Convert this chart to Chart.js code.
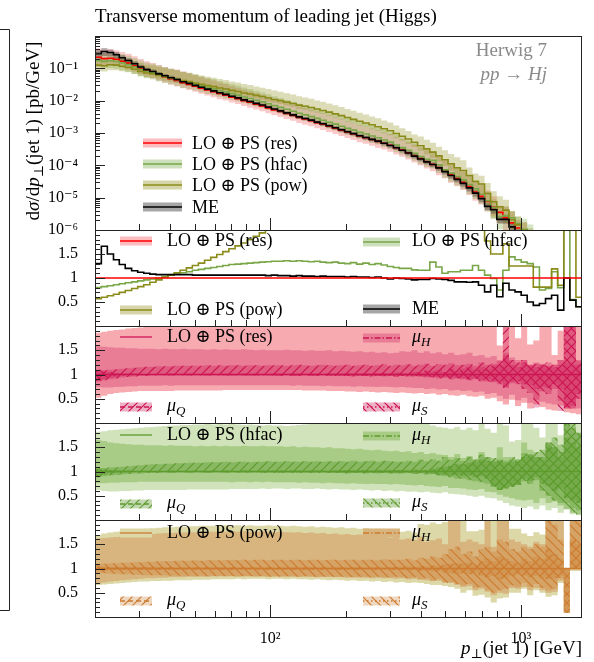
<!DOCTYPE html>
<html>
<head>
<meta charset="utf-8">
<script src="https://cdn.jsdelivr.net/npm/chart.js@4.4.1/dist/chart.umd.min.js"></script>
<style>
  body { margin: 0; background: #fff; }
  #wrap { position: relative; width: 594px; height: 662px; }
  #wrap canvas { position: absolute; left: 0; top: 0; }
</style>
</head>
<body>
<div id="wrap">
  <canvas id="cTop" width="594" height="662"></canvas>
  <canvas id="cRatio" width="594" height="662"></canvas>
  <canvas id="cRes" width="594" height="662"></canvas>
  <canvas id="cHfac" width="594" height="662"></canvas>
  <canvas id="cPow" width="594" height="662"></canvas>
</div>
<script>
const SERIF = '"Liberation Serif", "DejaVu Serif", serif';

// bin edges of p_T(jet 1) [GeV]
const edges = [20,21.2,22.4,23.7,25,26.4,28,29.6,31.3,33.1,
  35,37,39.1,41.4,43.7,46.3,48.9,51.7,54.7,57.9,
  61.2,64.7,68.4,72.4,76.5,80.9,85.6,90.5,95.7,101,
  107,113,120,127,134,142,150,158,167,177,
  187,198,209,221,234,248,262,277,293,310,
  327,346,366,387,410,433,458,484,512,542,
  573,606,641,677,716,757,801,847,896,947,
  1002,1059,1120,1185,1253,1325,1401,1482,1567,1657,1752];

// LO (+) PS (res), dsigma/dpT [pb/GeV]
const res = [0.22,0.2,0.205,0.19,0.166,0.145,0.12,0.098,0.083,0.074,
  0.063,0.055,0.048,0.042,0.036,0.032,0.028,0.0245,0.0214,0.019,
  0.0166,0.0148,0.0129,0.0115,0.01,0.0089,0.0078,0.0069,0.006,0.0052,
  0.0046,0.004,0.0035,0.003,0.0027,0.0024,0.0021,0.00186,0.00162,0.00141,
  0.00123,0.00107,9.3e-4,8.1e-4,7.1e-4,6.3e-4,5.5e-4,4.8e-4,4.2e-4,3.5e-4,
  2.95e-4,2.45e-4,2.0e-4,1.62e-4,1.32e-4,1.07e-4,8.5e-5,6.6e-5,5.1e-5,4.0e-5,
  3.0e-5,2.2e-5,1.5e-5,1.1e-5,7.6e-6,5.0e-6,3.5e-6,2.4e-6,1.66e-6,1.15e-6,
  7.9e-7,5.4e-7,3.6e-7,2.5e-7,1.7e-7,1.2e-7,8e-8,5.5e-8,3.7e-8,2.5e-8];

// ratios to LO (+) PS (res)
const hfacRatio = [0.8,0.82,0.84,0.86,0.88,0.9,0.92,0.94,0.96,0.98,
  1.0,1.03,1.06,1.08,1.11,1.13,1.16,1.18,1.2,1.22,
  1.24,1.26,1.28,1.29,1.3,1.31,1.32,1.33,1.34,1.35,
  1.35,1.36,1.35,1.36,1.35,1.34,1.35,1.33,1.32,1.33,
  1.31,1.3,1.32,1.29,1.31,1.28,1.3,1.27,1.24,1.22,
  1.2,1.2,1.17,1.16,1.16,1.33,1.23,1.1,1.13,1.13,
  1.16,1.16,1.26,1.16,1.06,0.99,0.75,1.16,1.44,1.38,
  1.33,1.3,1.23,0.75,0.78,1.13,0.8,2.5,0.55,0.4];
const powRatio = [0.57,0.6,0.63,0.66,0.7,0.74,0.78,0.82,0.86,0.91,
  0.96,1.01,1.06,1.11,1.16,1.21,1.26,1.31,1.37,1.43,
  1.49,1.55,1.61,1.67,1.73,1.8,1.87,1.94,2.02,2.1,
  2.18,2.26,2.34,2.42,2.5,2.56,2.62,2.68,2.72,2.76,
  2.8,2.82,2.84,2.86,2.86,2.85,2.84,2.82,2.8,2.75,
  2.7,2.65,2.6,2.5,2.45,2.4,2.3,2.25,2.2,2.1,
  2.3,2.2,2.1,2.4,1.77,1.5,1.5,1.71,1.25,1.25,
  1.25,1.25,0.81,0.81,0.81,1.19,0.85,2.5,2.5,0.6];
const meRatio = [1.3,1.66,1.5,1.38,1.28,1.2,1.15,1.12,1.1,1.08,
  1.07,1.07,1.07,1.07,1.07,1.07,1.06,1.06,1.06,1.06,
  1.06,1.06,1.06,1.06,1.06,1.06,1.06,1.06,1.05,1.06,
  1.05,1.05,1.04,1.05,1.04,1.04,1.03,1.04,1.03,1.03,
  1.03,1.02,1.03,1.02,1.02,1.01,1.02,1.0,0.98,1.0,
  0.99,0.98,0.96,0.97,0.97,0.99,0.98,0.97,0.95,0.92,
  0.92,0.91,0.92,0.85,0.71,0.85,0.61,0.89,0.75,0.71,
  0.64,0.5,0.43,0.47,0.57,0.64,0.33,1.0,0.54,0.4];
// ME relative uncertainty
const meBand = [0.3,0.28,0.25,0.22,0.2,0.18,0.17,0.16,0.15,0.15,
  0.14,0.14,0.14,0.13,0.13,0.13,0.13,0.13,0.12,0.12,
  0.12,0.12,0.12,0.12,0.12,0.12,0.12,0.12,0.12,0.12,
  0.12,0.12,0.12,0.12,0.12,0.12,0.12,0.13,0.13,0.13,
  0.13,0.13,0.13,0.13,0.14,0.14,0.14,0.14,0.15,0.15,
  0.15,0.16,0.16,0.17,0.17,0.18,0.18,0.19,0.2,0.2,
  0.21,0.22,0.22,0.23,0.24,0.25,0.26,0.27,0.28,0.29,
  0.3,0.3,0.3,0.3,0.3,0.3,0.3,0.3,0.3,0.3];

// res: scale variation bands (relative)
const rTotHi = [1.86,1.88,1.9,1.92,1.93,1.95,1.96,1.97,1.98,1.99,
  2,2.01,2.02,2.2,2.2,2.2,2.2,2.2,2.2,2.2,
  2.2,2.2,2.2,2.2,2.2,2.2,2.2,2.2,2.2,2.2,
  2.2,2.2,2.2,2.2,2.2,2.2,2.2,2.2,2.2,2.2,
  2.2,2.2,2.2,2.2,2.2,2.2,2.2,2.2,2.2,2.2,
  2.2,2.2,2.2,2.2,2.2,2.2,2.2,2.2,2.2,2.2,
  2.2,2.2,2.2,2.2,2.2,2.2,1.6,2.2,2.2,1.75,
  2.2,1.62,1.7,2.2,2.2,1.4,1.9,2.2,2.2,2.2];
const rTotLo = [0.52,0.56,0.6,0.62,0.63,0.64,0.65,0.66,0.66,0.66,
  0.66,0.66,0.66,0.67,0.67,0.67,0.67,0.67,0.67,0.67,
  0.67,0.68,0.68,0.68,0.68,0.68,0.68,0.68,0.68,0.68,
  0.68,0.68,0.68,0.68,0.67,0.67,0.67,0.67,0.66,0.66,
  0.66,0.65,0.65,0.64,0.65,0.64,0.63,0.64,0.63,0.62,
  0.63,0.62,0.61,0.62,0.6,0.61,0.58,0.6,0.57,0.56,
  0.58,0.55,0.54,0.56,0.5,0.52,0.45,0.38,0.48,0.35,
  0.42,0.3,0.38,0.33,0.28,0.26,0.36,0.22,0.2,0.18];
const rHHi = [1.58,1.57,1.56,1.55,1.55,1.54,1.54,1.53,1.53,1.53,
  1.52,1.53,1.52,1.52,1.53,1.52,1.52,1.52,1.51,1.52,
  1.51,1.52,1.51,1.51,1.52,1.51,1.5,1.51,1.5,1.5,
  1.5,1.51,1.5,1.5,1.49,1.5,1.49,1.49,1.5,1.48,
  1.49,1.48,1.47,1.48,1.46,1.47,1.45,1.46,1.44,1.45,
  1.48,1.47,1.5,1.45,1.48,1.44,1.46,1.42,1.45,1.4,
  1.42,1.45,1.38,1.4,1.35,1.38,1.3,1.45,1.35,1.3,
  1.3,1.18,1.25,1.22,1.15,1.2,1.3,1.25,1.2,1.28];
const rHLo = [0.74,0.73,0.73,0.74,0.75,0.76,0.76,0.77,0.77,0.77,
  0.77,0.78,0.77,0.78,0.78,0.78,0.78,0.78,0.78,0.78,
  0.78,0.78,0.78,0.78,0.78,0.78,0.78,0.78,0.78,0.78,
  0.78,0.78,0.77,0.78,0.77,0.77,0.77,0.76,0.77,0.76,
  0.76,0.76,0.75,0.76,0.75,0.75,0.74,0.75,0.74,0.73,
  0.74,0.73,0.72,0.72,0.7,0.71,0.69,0.7,0.67,0.68,
  0.66,0.67,0.64,0.65,0.6,0.62,0.56,0.5,0.58,0.47,
  0.52,0.42,0.48,0.44,0.4,0.38,0.46,0.33,0.3,0.3];
const rQHi = [1.08,1.09,1.1,1.11,1.12,1.13,1.14,1.15,1.16,1.16,
  1.17,1.17,1.17,1.18,1.18,1.18,1.18,1.18,1.19,1.18,
  1.19,1.18,1.19,1.19,1.18,1.19,1.19,1.18,1.19,1.19,
  1.19,1.18,1.19,1.2,1.19,1.18,1.19,1.2,1.19,1.18,
  1.19,1.2,1.18,1.19,1.2,1.18,1.19,1.21,1.18,1.2,
  1.19,1.21,1.18,1.2,1.22,1.18,1.21,1.2,1.23,1.19,
  1.2,1.22,1.18,1.25,1.2,1.22,1.28,2.2,1.3,1.25,
  1.3,1.2,1.22,1.2,1.25,1.2,1.3,2.2,2.2,1.3];
const rQLo = [0.86,0.88,0.9,0.92,0.94,0.95,0.96,0.97,0.97,0.98,
  0.98,0.98,0.98,0.98,0.98,0.98,0.98,0.98,0.98,0.98,
  0.98,0.98,0.97,0.98,0.98,0.97,0.98,0.98,0.97,0.98,
  0.97,0.98,0.97,0.97,0.98,0.97,0.97,0.98,0.97,0.97,
  0.97,0.97,0.96,0.97,0.97,0.96,0.97,0.96,0.97,0.96,
  0.97,0.96,0.97,0.95,0.96,0.94,0.95,0.93,0.94,0.92,
  0.92,0.9,0.92,0.88,0.9,0.86,0.85,0.72,0.85,0.86,
  0.8,0.78,0.7,0.75,0.72,0.8,0.7,0.3,0.35,0.6];
const rSHi = [1.1,1.07,1.05,1.03,1.02,1.02,1.02,1.01,1.01,1.01,
  1.01,1.01,1.02,1.01,1.01,1.02,1.01,1.01,1.02,1.01,
  1.01,1.02,1.01,1.01,1.02,1.01,1.02,1.01,1.01,1.02,
  1.02,1.01,1.02,1.02,1.01,1.02,1.02,1.01,1.02,1.02,
  1.02,1.03,1.02,1.02,1.03,1.02,1.03,1.03,1.02,1.04,
  1.03,1.02,1.05,1.04,1.08,1.06,1.1,1.05,1.12,1.08,
  1.12,1.15,1.1,1.15,1.12,1.18,1.2,1.4,1.2,1.15,
  1.25,1.2,1.15,1.2,1.18,1.15,1.2,2.2,2.2,1.2];
const rSLo = [0.86,0.9,0.94,0.96,0.98,0.98,0.99,0.99,0.99,0.99,
  0.99,0.99,0.98,0.99,0.99,0.98,0.99,0.99,0.98,0.99,
  0.99,0.98,0.99,0.99,0.98,0.99,0.98,0.99,0.99,0.98,
  0.98,0.99,0.98,0.98,0.99,0.98,0.98,0.99,0.98,0.98,
  0.98,0.97,0.98,0.98,0.97,0.98,0.97,0.97,0.98,0.96,
  0.97,0.98,0.96,0.97,0.94,0.95,0.92,0.95,0.9,0.93,
  0.9,0.88,0.9,0.86,0.85,0.84,0.8,0.75,0.82,0.8,
  0.7,0.62,0.32,0.65,0.6,0.7,0.25,0.3,0.3,0.5];

// hfac: scale variation bands (relative)
const gTotHi = [1.82,1.83,1.85,1.86,1.87,1.88,1.89,1.9,1.91,1.92,
  1.93,1.94,1.95,1.95,1.96,1.96,1.97,1.97,1.98,1.97,
  1.98,1.97,1.98,1.97,1.96,1.97,1.96,1.95,1.96,1.95,
  1.95,1.94,1.95,1.96,1.97,1.98,2,2.02,2,2.05,
  2.05,2.1,2.05,2.1,2.1,2.1,2.05,2.1,2,2.1,
  2.05,2,2.1,1.98,2,1.95,1.92,1.9,1.88,1.92,
  1.86,1.9,1.85,2.1,1.88,1.8,2.1,1.95,1.62,1.65,
  2.1,2.1,1.9,1.7,2.1,2.1,1.75,2.1,2.1,2.1];
const gTotLo = [0.62,0.6,0.59,0.59,0.6,0.6,0.61,0.61,0.62,0.62,
  0.62,0.62,0.62,0.62,0.62,0.63,0.63,0.63,0.63,0.63,
  0.63,0.63,0.64,0.64,0.64,0.64,0.64,0.65,0.64,0.65,
  0.65,0.64,0.65,0.65,0.64,0.64,0.65,0.64,0.63,0.64,
  0.63,0.63,0.62,0.63,0.62,0.61,0.62,0.6,0.61,0.59,
  0.6,0.58,0.59,0.57,0.58,0.56,0.55,0.57,0.54,0.53,
  0.52,0.5,0.48,0.5,0.46,0.45,0.4,0.35,0.3,0.28,
  0.25,0.28,0.22,0.3,0.2,0.25,0.15,0.22,0.12,0.1];
const gHHi = [1.65,1.63,1.6,1.58,1.57,1.56,1.55,1.55,1.54,1.54,
  1.54,1.53,1.54,1.53,1.53,1.53,1.52,1.53,1.52,1.53,
  1.52,1.53,1.52,1.52,1.53,1.52,1.52,1.53,1.52,1.52,
  1.52,1.51,1.52,1.5,1.51,1.5,1.5,1.49,1.5,1.48,
  1.48,1.47,1.46,1.47,1.45,1.44,1.45,1.43,1.42,1.43,
  1.4,1.42,1.38,1.4,1.36,1.38,1.35,1.34,1.3,1.36,
  1.28,1.32,1.25,1.4,1.3,1.22,1.5,1.3,1.25,1.2,
  1.6,1.45,1.3,1.25,1.55,1.5,1.3,1.7,1.6,1.5];
const gHLo = [0.76,0.76,0.77,0.77,0.78,0.78,0.78,0.79,0.79,0.79,
  0.79,0.79,0.79,0.79,0.79,0.79,0.79,0.79,0.79,0.79,
  0.79,0.79,0.78,0.79,0.79,0.78,0.79,0.78,0.79,0.78,
  0.78,0.78,0.78,0.77,0.78,0.77,0.77,0.76,0.77,0.76,
  0.76,0.75,0.76,0.75,0.74,0.75,0.74,0.74,0.73,0.74,
  0.73,0.72,0.71,0.72,0.7,0.69,0.68,0.7,0.66,0.66,
  0.65,0.63,0.62,0.64,0.58,0.57,0.52,0.48,0.45,0.42,
  0.4,0.42,0.35,0.45,0.35,0.38,0.3,0.35,0.25,0.2];
const gQHi = [1.06,1.07,1.08,1.09,1.1,1.11,1.12,1.13,1.14,1.15,
  1.15,1.16,1.16,1.17,1.17,1.18,1.18,1.18,1.19,1.19,
  1.19,1.2,1.19,1.2,1.2,1.19,1.2,1.2,1.21,1.2,
  1.2,1.21,1.2,1.2,1.21,1.2,1.21,1.2,1.21,1.2,
  1.21,1.2,1.22,1.2,1.21,1.22,1.2,1.22,1.21,1.2,
  1.2,1.22,1.2,1.24,1.21,1.25,1.22,1.3,1.24,1.28,
  1.22,1.3,1.25,1.35,1.3,1.28,1.25,1.22,1.3,1.25,
  1.38,1.35,1.4,1.3,1.6,1.5,1.4,2.1,2.1,1.8];
const gQLo = [0.88,0.9,0.92,0.93,0.94,0.95,0.96,0.96,0.97,0.97,
  0.97,0.98,0.97,0.98,0.98,0.97,0.98,0.98,0.97,0.98,
  0.98,0.97,0.98,0.98,0.97,0.98,0.98,0.97,0.98,0.97,
  0.97,0.98,0.97,0.97,0.98,0.97,0.97,0.98,0.97,0.97,
  0.97,0.96,0.97,0.97,0.96,0.97,0.96,0.97,0.96,0.96,
  0.96,0.97,0.95,0.96,0.94,0.95,0.93,0.94,0.92,0.93,
  0.9,0.92,0.88,0.9,0.85,0.7,0.62,0.65,0.68,0.72,
  0.85,0.8,0.88,0.75,0.7,0.6,0.65,0.45,0.4,0.35];
const gSHi = [1.06,1.04,1.03,1.02,1.02,1.02,1.01,1.01,1.01,1.01,
  1.01,1.01,1.02,1.01,1.01,1.01,1.02,1.01,1.01,1.02,
  1.01,1.02,1.01,1.01,1.02,1.01,1.01,1.02,1.01,1.02,
  1.02,1.01,1.02,1.02,1.01,1.02,1.02,1.02,1.01,1.02,
  1.02,1.03,1.02,1.02,1.03,1.02,1.03,1.02,1.03,1.03,
  1.03,1.02,1.04,1.03,1.03,1.05,1.08,1.1,1.12,1.15,
  1.15,1.18,1.2,1.25,1.22,1.2,1.22,1.18,1.2,1.25,
  1.3,1.35,1.3,1.45,1.6,1.7,1.55,2.1,1.9,1.8];
const gSLo = [0.9,0.94,0.96,0.97,0.98,0.98,0.99,0.99,0.99,0.99,
  0.99,0.99,0.98,0.99,0.99,0.98,0.99,0.99,0.98,0.99,
  0.99,0.98,0.99,0.98,0.99,0.98,0.99,0.98,0.98,0.99,
  0.98,0.98,0.99,0.98,0.98,0.98,0.99,0.98,0.98,0.98,
  0.98,0.97,0.98,0.98,0.97,0.98,0.97,0.98,0.97,0.97,
  0.97,0.98,0.96,0.97,0.97,0.95,0.92,0.9,0.88,0.85,
  0.85,0.82,0.8,0.78,0.75,0.68,0.62,0.65,0.7,0.72,
  0.8,0.75,0.82,0.6,0.5,0.4,0.35,0.22,0.15,0.12];

// pow: scale variation bands (relative)
const pTotHi = [1.69,1.72,1.74,1.76,1.78,1.79,1.8,1.81,1.82,1.83,
  1.84,1.85,1.85,1.86,1.86,1.87,1.87,1.88,1.88,1.88,
  1.88,1.89,1.88,1.89,1.88,1.89,1.88,1.88,1.89,1.88,
  1.88,1.87,1.88,1.87,1.86,1.87,1.85,1.86,1.85,1.84,
  1.85,1.83,1.84,1.82,1.83,1.8,1.82,1.79,1.8,1.78,
  1.76,1.78,1.74,1.92,1.9,1.95,1.92,1.96,1.98,2.1,
  2.1,1.77,1.77,1.8,2.1,2.1,2.1,2.1,1.82,1.82,
  1.72,1.67,1.75,1.7,2.1,2.1,2.1,1.0,2.1,2.1];
const pTotLo = [0.66,0.67,0.68,0.69,0.7,0.71,0.72,0.73,0.73,0.74,
  0.74,0.75,0.75,0.76,0.76,0.76,0.77,0.77,0.77,0.78,
  0.78,0.78,0.78,0.79,0.78,0.79,0.79,0.79,0.78,0.79,
  0.79,0.78,0.79,0.78,0.78,0.77,0.78,0.77,0.76,0.77,
  0.76,0.75,0.76,0.74,0.75,0.73,0.74,0.72,0.73,0.71,
  0.72,0.7,0.71,0.7,0.68,0.66,0.66,0.64,0.62,0.58,
  0.5,0.55,0.44,0.46,0.4,0.3,0.38,0.4,0.5,0.5,
  0.58,0.45,0.55,0.5,0.42,0.45,0.7,0.09,0.95,0.95];
const pHHi = [1.62,1.63,1.64,1.65,1.66,1.67,1.68,1.69,1.7,1.71,
  1.72,1.73,1.73,1.74,1.74,1.75,1.75,1.76,1.76,1.76,
  1.77,1.76,1.77,1.76,1.77,1.76,1.76,1.77,1.76,1.75,
  1.76,1.75,1.74,1.75,1.73,1.74,1.72,1.73,1.71,1.72,
  1.7,1.71,1.69,1.7,1.67,1.68,1.65,1.67,1.63,1.65,
  1.6,1.62,1.58,1.65,1.55,1.58,1.62,1.5,2.1,2.1,
  1.55,1.6,1.55,1.5,2.1,1.45,2.1,2.1,1.6,1.55,
  1.5,1.45,1.55,1.5,2.1,2.1,2.1,1.0,2.1,2.1];
const pHLo = [0.69,0.71,0.73,0.74,0.76,0.77,0.78,0.79,0.8,0.8,
  0.81,0.81,0.82,0.82,0.82,0.83,0.83,0.83,0.83,0.84,
  0.84,0.84,0.84,0.84,0.84,0.84,0.84,0.84,0.83,0.84,
  0.84,0.83,0.84,0.83,0.83,0.83,0.82,0.83,0.82,0.82,
  0.82,0.81,0.82,0.81,0.81,0.8,0.81,0.8,0.8,0.79,
  0.8,0.78,0.79,0.77,0.76,0.74,0.75,0.72,0.7,0.66,
  0.62,0.64,0.55,0.58,0.52,0.45,0.5,0.48,0.6,0.58,
  0.62,0.55,0.6,0.55,0.5,0.52,0.75,0.09,0.98,0.98];
const pQHi = [1.04,1.04,1.03,1.03,1.03,1.03,1.03,1.03,1.03,1.03,
  1.03,1.02,1.03,1.02,1.03,1.02,1.03,1.02,1.03,1.02,
  1.03,1.02,1.03,1.02,1.03,1.02,1.03,1.02,1.03,1.02,
  1.03,1.02,1.03,1.02,1.03,1.03,1.02,1.03,1.02,1.03,
  1.03,1.02,1.03,1.03,1.02,1.03,1.03,1.02,1.03,1.03,
  1.03,1.04,1.03,1.05,1.04,1.06,1.05,1.08,1.1,1.12,
  1.1,1.12,1.08,1.15,1.2,1.15,1.25,1.2,1.15,1.12,
  1.2,1.15,1.25,1.2,1.4,1.3,1.2,1,1.6,1.5];
const pQLo = [0.96,0.96,0.97,0.97,0.97,0.97,0.97,0.97,0.97,0.97,
  0.97,0.98,0.97,0.98,0.97,0.98,0.97,0.98,0.97,0.98,
  0.97,0.98,0.97,0.98,0.97,0.98,0.97,0.98,0.97,0.98,
  0.97,0.98,0.97,0.98,0.97,0.97,0.98,0.97,0.98,0.97,
  0.97,0.98,0.97,0.97,0.98,0.97,0.97,0.98,0.97,0.97,
  0.97,0.96,0.97,0.95,0.96,0.94,0.95,0.92,0.9,0.88,
  0.9,0.88,0.9,0.85,0.82,0.85,0.78,0.8,0.85,0.88,
  0.85,0.82,0.85,0.8,0.78,0.8,0.85,0.09,1,1];
const pSHi = [1.1,1.1,1.11,1.11,1.12,1.12,1.13,1.13,1.14,1.14,
  1.15,1.15,1.15,1.16,1.16,1.16,1.17,1.16,1.17,1.17,
  1.17,1.17,1.18,1.17,1.18,1.17,1.18,1.18,1.17,1.18,
  1.18,1.17,1.18,1.18,1.17,1.18,1.18,1.17,1.18,1.18,
  1.17,1.18,1.18,1.17,1.18,1.18,1.17,1.19,1.18,1.18,
  1.18,1.2,1.17,1.22,1.2,1.25,1.22,1.3,1.4,1.45,
  1.3,1.35,1.25,1.4,1.45,1.35,1.6,1.55,1.4,1.35,
  1.45,1.4,1.5,1.45,2.1,1.9,1.6,1.0,2.1,2.1];
const pSLo = [0.9,0.9,0.89,0.89,0.88,0.88,0.87,0.87,0.86,0.86,
  0.86,0.86,0.85,0.85,0.85,0.85,0.84,0.85,0.84,0.84,
  0.84,0.84,0.84,0.83,0.84,0.84,0.83,0.84,0.83,0.83,
  0.83,0.84,0.83,0.83,0.84,0.83,0.83,0.83,0.84,0.83,
  0.83,0.83,0.82,0.83,0.83,0.82,0.83,0.82,0.82,0.83,
  0.82,0.8,0.82,0.78,0.8,0.75,0.78,0.7,0.72,0.68,
  0.65,0.68,0.6,0.62,0.55,0.5,0.55,0.58,0.65,0.62,
  0.7,0.62,0.68,0.6,0.55,0.58,0.8,0.09,1.0,1.0];

// axis ticks and labels
const xMajor = [100, 1000];
const xMajorLabels = ['10²', '10³'];
const xMinor = [20,30,40,50,60,70,80,90,200,300,400,500,600,700,800,900];
const logTicks = [1e-1,1e-2,1e-3,1e-4,1e-5,1e-6];
const logTickLabels = ['10⁻¹','10⁻²','10⁻³','10⁻⁴','10⁻⁵','10⁻⁶'];
const ratioTicks = [0.5, 1, 1.5];
const ratioTickLabels = ['0.5', '1', '1.5'];

const W = 594, H = 662, LEFT = 95, RIGHT = 582;

const RED = '#ff0000', GREEN = '#79a748', OLIVE = '#8b8b19';
const resCol = {light: '#f7aab0', mid: '#e97d96', tint: 'rgba(205,30,90,0.35)', line: '#cc1452'};
const hfacCol = {light: '#d0e3ba', mid: '#a8cc85', tint: 'rgba(80,145,35,0.35)', line: '#5e9b2d'};
const powCol = {light: '#dcd8a8', mid: '#d8b47e', tint: 'rgba(205,125,45,0.3)', line: '#cd7b30'};

function hatch(tint, line, dir) {
  const s = 9, c = document.createElement('canvas');
  c.width = s; c.height = s;
  const g = c.getContext('2d');
  g.fillStyle = tint; g.fillRect(0, 0, s, s);
  g.strokeStyle = line; g.lineWidth = 1.2;
  g.beginPath();
  if (dir > 0) {
    g.moveTo(-1, s + 1); g.lineTo(s + 1, -1);
    g.moveTo(-1, 1); g.lineTo(1, -1);
    g.moveTo(s - 1, s + 1); g.lineTo(s + 1, s - 1);
  } else {
    g.moveTo(-1, -1); g.lineTo(s + 1, s + 1);
    g.moveTo(s - 1, -1); g.lineTo(s + 1, 1);
    g.moveTo(-1, s - 1); g.lineTo(1, s + 1);
  }
  g.stroke();
  return g.createPattern(c, 'repeat');
}

const steps = v => v.map((y, i) => ({x: edges[i], y})).concat([{x: edges[v.length], y: v[v.length - 1]}]);
const times = (a, b) => a.map((v, i) => v * b[i]);

function lineDs(vals, color, width, order) {
  return {data: steps(vals), borderColor: color, borderWidth: width, fill: false,
    stepped: true, pointRadius: 0, order, clip: 0};
}
function bandDs(lo, hi, bg, order) {
  return [
    {data: steps(lo), borderWidth: 0, borderColor: 'transparent', fill: false, stepped: true, pointRadius: 0, order, clip: 0},
    {data: steps(hi), borderWidth: 0, borderColor: 'transparent', backgroundColor: bg, fill: '-1', stepped: true, pointRadius: 0, order, clip: 0}
  ];
}

function rich(ctx, parts, x, y, align, size, color) {
  const fonts = parts.map(p => (p[1].indexOf('i') >= 0 ? 'italic ' : '') +
    (p[1].indexOf('sub') >= 0 ? Math.round(size * 0.7) : size) + 'px ' + SERIF);
  let w = 0;
  parts.forEach((p, k) => { ctx.font = fonts[k]; w += ctx.measureText(p[0]).width; });
  let cx = align === 'right' ? x - w : align === 'center' ? x - w / 2 : x;
  ctx.fillStyle = color; ctx.textAlign = 'left'; ctx.textBaseline = 'alphabetic';
  parts.forEach((p, k) => {
    ctx.font = fonts[k];
    ctx.fillText(p[0], cx, y + (p[1].indexOf('sub') >= 0 ? size * 0.22 : 0));
    cx += ctx.measureText(p[0]).width;
  });
}

function swatch(ctx, x0, x1, yc, fill, line, dash, lw) {
  if (fill) { ctx.fillStyle = fill; ctx.fillRect(x0, yc - 4.5, x1 - x0, 9); }
  ctx.strokeStyle = line; ctx.lineWidth = lw || 1.5; ctx.setLineDash(dash || []);
  ctx.beginPath(); ctx.moveTo(x0, yc); ctx.lineTo(x1, yc); ctx.stroke();
  ctx.setLineDash([]);
}

function frame(chart, ctx, yMajor, yMinor) {
  const a = chart.chartArea, x = chart.scales.x, y = chart.scales.y;
  ctx.strokeStyle = '#222'; ctx.lineWidth = 1;
  ctx.beginPath();
  xMinor.forEach(v => { const p = Math.round(x.getPixelForValue(v)) + 0.5; ctx.moveTo(p, a.bottom); ctx.lineTo(p, a.bottom - 6); });
  xMajor.forEach(v => { const p = Math.round(x.getPixelForValue(v)) + 0.5; ctx.moveTo(p, a.bottom); ctx.lineTo(p, a.bottom - 12); });
  yMinor.forEach(v => { const p = Math.round(y.getPixelForValue(v)) + 0.5; ctx.moveTo(a.left, p); ctx.lineTo(a.left + 5, p); });
  yMajor.forEach(v => { const p = Math.round(y.getPixelForValue(v)) + 0.5; ctx.moveTo(a.left, p); ctx.lineTo(a.left + 10, p); });
  ctx.stroke();
  ctx.strokeRect(a.left + 0.5, a.top + 0.5, a.right - a.left - 1, a.bottom - a.top);
}

const logMinor = [];
for (let e = -6; e < 0; e++) for (let m = 2; m <= 9; m++) logMinor.push(m * Math.pow(10, e));
const logMajor = [1e-6,1e-5,1e-4,1e-3,1e-2,1e-1];
const ratioMinor = [];
for (let k = 1; k < 20; k++) if (k % 5) ratioMinor.push(k / 10);

const tickFont = {family: SERIF, size: 16};

function logY() {
  return {type: 'logarithmic', min: 1e-6, max: 1,
    afterBuildTicks: a => { a.ticks = logTicks.map(v => ({value: v})); },
    ticks: {callback: v => logTickLabels[logTicks.indexOf(v)], font: tickFont, color: '#000', padding: 9, autoSkip: false}};
}
function ratioY() {
  return {type: 'linear', min: 0, max: 2,
    afterBuildTicks: a => { a.ticks = ratioTicks.map(v => ({value: v})); },
    ticks: {callback: v => ratioTickLabels[ratioTicks.indexOf(v)], font: tickFont, color: '#000', padding: 9, autoSkip: false}};
}

function panel(id, top, bottom, yOpts, datasets, draw, withX) {
  return new Chart(document.getElementById(id), {
    type: 'line',
    data: {datasets},
    options: {
      responsive: false, animation: false, events: [], devicePixelRatio: 1,
      layout: {padding: {top, bottom: withX ? H - bottom - 42 : H - bottom, left: 0, right: W - RIGHT}},
      scales: {
        x: {type: 'logarithmic', min: 20, max: 1752, display: !!withX,
          grid: {display: false}, border: {display: false},
          afterBuildTicks: a => { a.ticks = xMajor.map(v => ({value: v})); },
          afterFit: a => { a.height = withX ? 42 : 0; },
          ticks: {callback: v => xMajorLabels[xMajor.indexOf(v)], font: tickFont, color: '#000', padding: 4, maxRotation: 0, autoSkip: false}},
        y: Object.assign({grid: {display: false}, border: {display: false}, afterFit: a => { a.width = LEFT; }}, yOpts)
      },
      plugins: {legend: {display: false}, tooltip: {enabled: false}}
    },
    plugins: [{id: 'deco', afterDraw: chart => { const c = chart.ctx; c.save(); draw(chart, c); c.restore(); }}]
  });
}

const hfac = times(res, hfacRatio), pow = times(res, powRatio), me = times(res, meRatio);
const unit = res.map((v, i) => v / res[i]);

const lbl = (ctx, text, x, yc) => rich(ctx, [[text, '']], x, yc + 6, 'left', 18, '#000');
const mu = (ctx, sub, x, yc) => rich(ctx, [['μ', 'i'], [sub, 'isub']], x, yc + 4, 'left', 18, '#000');

// top panel: differential cross section
panel('cTop', 36, 230, logY(), [
  lineDs(me, '#000', 1.6, 0),
  lineDs(pow, OLIVE, 1.6, 1),
  lineDs(hfac, GREEN, 1.6, 2),
  lineDs(res, RED, 1.6, 3),
  ...bandDs(times(me, meBand.map(b => 1 - b)), times(me, meBand.map(b => 1 + b)), 'rgba(0,0,0,0.28)', 4),
  ...bandDs(times(pow, pTotLo), times(pow, pTotHi), 'rgba(150,150,40,0.33)', 5),
  ...bandDs(times(hfac, gTotLo), times(hfac, gTotHi), 'rgba(110,170,60,0.3)', 6),
  ...bandDs(times(res, rTotLo), times(res, rTotHi), 'rgba(245,60,70,0.28)', 7)
], (chart, ctx) => {
  frame(chart, ctx, logMajor, logMinor);
  // edge of the neighbouring figure on the left
  ctx.strokeStyle = '#222'; ctx.lineWidth = 1;
  ctx.beginPath(); ctx.moveTo(0, 29.5); ctx.lineTo(9.5, 29.5); ctx.lineTo(9.5, 610.5); ctx.lineTo(0, 610.5); ctx.stroke();
  rich(ctx, [['Transverse momentum of leading jet (Higgs)', '']], LEFT, 22, 'left', 19, '#000');
  rich(ctx, [['Herwig 7', '']], 547, 56, 'right', 19, '#8a8a8a');
  rich(ctx, [['pp', 'i'], [' → ', ''], ['Hj', 'i']], 547, 80, 'right', 19, '#8a8a8a');
  ctx.save();
  ctx.translate(33, 131); ctx.rotate(-Math.PI / 2);
  rich(ctx, [['d', ''], ['σ', 'i'], ['/d', ''], ['p', 'i'], ['⊥', 'sub'], ['(jet 1) [pb/GeV]', '']], 0, 6, 'center', 19, '#000');
  ctx.restore();
  swatch(ctx, 143, 182, 143, 'rgba(245,60,70,0.35)', RED);
  lbl(ctx, 'LO ⊕ PS (res)', 192, 143);
  swatch(ctx, 143, 182, 164, 'rgba(110,170,60,0.35)', GREEN);
  lbl(ctx, 'LO ⊕ PS (hfac)', 192, 164);
  swatch(ctx, 143, 182, 185, 'rgba(150,150,40,0.4)', OLIVE);
  lbl(ctx, 'LO ⊕ PS (pow)', 192, 185);
  swatch(ctx, 143, 182, 207, 'rgba(0,0,0,0.35)', '#000');
  lbl(ctx, 'ME', 192, 207);
});

// ratio panel
panel('cRatio', 230, 326, ratioY(), [
  lineDs(unit, RED, 1.6, 0),
  lineDs(meRatio, '#000', 1.6, 1),
  lineDs(powRatio, OLIVE, 1.6, 2),
  lineDs(hfacRatio, GREEN, 1.6, 3)
], (chart, ctx) => {
  frame(chart, ctx, ratioTicks, ratioMinor);
  swatch(ctx, 120, 152, 241, 'rgba(245,60,70,0.35)', RED);
  lbl(ctx, 'LO ⊕ PS (res)', 167, 240);
  swatch(ctx, 363, 400, 242, 'rgba(110,170,60,0.35)', GREEN);
  lbl(ctx, 'LO ⊕ PS (hfac)', 412, 240);
  swatch(ctx, 120, 152, 310, 'rgba(150,150,40,0.4)', OLIVE);
  lbl(ctx, 'LO ⊕ PS (pow)', 167, 309);
  swatch(ctx, 363, 400, 309, 'rgba(0,0,0,0.35)', '#000');
  lbl(ctx, 'ME', 412, 308);
});

function bandPanel(id, top, bottom, col, name, b, withX, ly) {
  const hq = hatch(col.tint, col.line, 1), hs = hatch(col.tint, col.line, -1);
  panel(id, top, bottom, ratioY(), [
    lineDs(unit, col.line, 1.4, 0),
    ...bandDs(b.sLo, b.sHi, hs, 1),
    ...bandDs(b.qLo, b.qHi, hq, 2),
    ...bandDs(b.hLo, b.hHi, col.mid, 3),
    ...bandDs(b.tLo, b.tHi, col.light, 4)
  ], (chart, ctx) => {
    frame(chart, ctx, ratioTicks, ratioMinor);
    swatch(ctx, 120, 152, ly[0], col.light, col.line, null, 1.3);
    lbl(ctx, name, 167, ly[0] - 1);
    swatch(ctx, 363, 400, ly[1], col.mid, col.line, [6, 2, 1.5, 2], 1.3);
    mu(ctx, 'H', 412, ly[1]);
    swatch(ctx, 120, 152, ly[2], hq, col.line, [5, 3], 1.3);
    mu(ctx, 'Q', 167, ly[2]);
    swatch(ctx, 363, 400, ly[3], hs, col.line, [1.5, 2.5], 1.3);
    mu(ctx, 'S', 412, ly[3]);
    if (withX) rich(ctx, [['p', 'i'], ['⊥', 'sub'], ['(jet 1) [GeV]', '']], RIGHT, 654, 'right', 19, '#000');
  }, withX);
}

bandPanel('cRes', 326, 423, resCol, 'LO ⊕ PS (res)',
  {tLo: rTotLo, tHi: rTotHi, hLo: rHLo, hHi: rHHi, qLo: rQLo, qHi: rQHi, sLo: rSLo, sHi: rSHi}, false, [337, 338, 407, 407]);
bandPanel('cHfac', 423, 520, hfacCol, 'LO ⊕ PS (hfac)',
  {tLo: gTotLo, tHi: gTotHi, hLo: gHLo, hHi: gHHi, qLo: gQLo, qHi: gQHi, sLo: gSLo, sHi: gSHi}, false, [435, 436, 504, 503]);
bandPanel('cPow', 520, 617, powCol, 'LO ⊕ PS (pow)',
  {tLo: pTotLo, tHi: pTotHi, hLo: pHLo, hHi: pHHi, qLo: pQLo, qHi: pQHi, sLo: pSLo, sHi: pSHi}, true, [533, 533, 601, 601]);
</script>
</body>
</html>
